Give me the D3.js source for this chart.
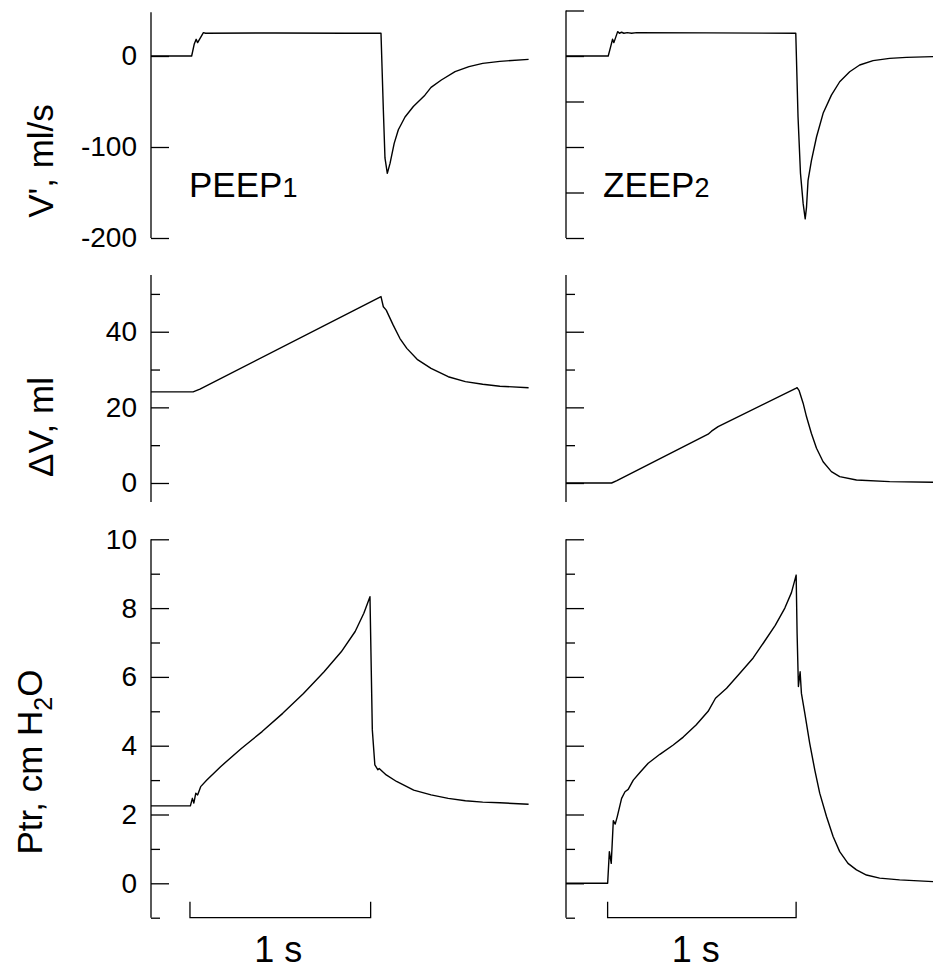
<!DOCTYPE html>
<html>
<head>
<meta charset="utf-8">
<script src="https://cdn.jsdelivr.net/npm/d3@7"></script>
<style>
body { margin: 0; background: #fff; }
text { font-family: "Liberation Sans", Arial, sans-serif; fill: #000; }
</style>
</head>
<body>
<svg id="chart"></svg>
<script>
const width = 934;
const height = 969;

// traces: [time (s), value]
const flowPeep = [[0,0],[0.225,0],[0.239,12.8],[0.250,18.3],[0.258,14.7],[0.290,25.7],[0.302,25],[0.691,25.3],[1.073,25],[1.273,25],
  [1.286,-59],[1.295,-112],[1.308,-129],[1.323,-118],[1.346,-96],[1.369,-81],[1.406,-67],[1.452,-55.5],[1.516,-43],[1.550,-34.5],
  [1.607,-26.4],[1.683,-17.2],[1.760,-11.7],[1.836,-8.1],[1.931,-5.9],[2.090,-3.7]];
const flowZeep = [[0,0],[0.224,0],[0.237,10.3],[0.247,18.4],[0.254,14.7],[0.274,26.8],[0.283,25],[0.295,26.1],[0.307,25],[0.325,25.7],
  [0.348,25],[0.375,25.7],[0.746,25.4],[1.219,25],[1.231,-67],[1.244,-129],[1.258,-162],[1.269,-179],[1.276,-166],[1.284,-137],
  [1.302,-115],[1.329,-89],[1.364,-63],[1.408,-43],[1.452,-28.3],[1.505,-17.3],[1.558,-9.9],[1.629,-5.1],[1.717,-2.6],[1.806,-1.5],[1.947,-0.7]];
const volPeep = [[0,24.1],[0.233,24.1],[0.271,24.8],[1.273,49.3],[1.286,46.6],[1.302,45.7],[1.340,41.8],[1.378,38.2],[1.416,35.6],
  [1.473,32.7],[1.550,30.3],[1.645,28.1],[1.740,26.8],[1.836,26.1],[1.931,25.6],[2.090,25.2]];
const volZeep = [[0,0],[0.242,0],[0.270,0.6],[0.754,12.9],[0.772,13.7],[0.807,14.9],[1.219,25.0],[1.226,25.2],[1.237,24.4],
  [1.258,21.1],[1.276,17.5],[1.302,13.1],[1.329,9.2],[1.364,5.6],[1.408,3.0],[1.452,1.7],[1.541,0.8],[1.717,0.35],[1.947,0.2]];
const ptrPeep = [[0,2.25],[0.218,2.25],[0.229,2.47],[0.237,2.33],[0.248,2.62],[0.258,2.57],[0.275,2.81],[0.309,3.0],[0.385,3.39],
  [0.5,3.92],[0.615,4.41],[0.729,4.94],[0.844,5.52],[0.958,6.15],[1.053,6.73],[1.130,7.32],[1.178,7.85],[1.212,8.33],
  [1.225,4.46],[1.239,3.44],[1.256,3.30],[1.263,3.34],[1.302,3.15],[1.359,2.96],[1.454,2.71],[1.550,2.57],[1.645,2.47],
  [1.740,2.40],[1.836,2.36],[1.931,2.34],[2.090,2.30]];
const ptrZeep = [[0,0],[0.221,0],[0.230,0.92],[0.240,0.58],[0.251,1.82],[0.261,1.72],[0.272,1.94],[0.295,2.47],[0.313,2.66],
  [0.330,2.73],[0.357,3.0],[0.392,3.22],[0.436,3.49],[0.498,3.75],[0.569,4.02],[0.622,4.25],[0.690,4.60],[0.754,5.0],
  [0.793,5.38],[0.852,5.67],[0.913,6.05],[0.993,6.55],[1.049,7.0],[1.110,7.50],[1.161,8.0],[1.196,8.45],[1.221,8.96],[1.226,7.27],
  [1.233,5.72],[1.242,6.15],[1.249,5.52],[1.267,4.94],[1.293,4.07],[1.320,3.29],[1.346,2.62],[1.382,1.94],[1.417,1.36],
  [1.452,0.92],[1.496,0.58],[1.541,0.39],[1.594,0.24],[1.664,0.15],[1.770,0.10],[1.947,0.05]];

// ticks
const flowTicksLeft = [-200, -100, 0];
const flowTicksRight = [-200, -150, -100, -50, 0, 50];
const volMajor = [0, 20, 40];
const volMinor = [10, 30, 50];
const ptrMajor = [0, 2, 4, 6, 8, 10];
const ptrMinor = [-1, 1, 3, 5, 7, 9];

const modeLabels = ['PEEP', 'ZEEP'];
const modeIndex = ['1', '2'];
const barLabel = '1 s';

const svg = d3.select('#chart').attr('width', width).attr('height', height);

const cols = [
  {x: d3.scaleLinear().domain([0, 2.09]).range([151, 528.6]), bar: [0.2157, 1.2157], labels: true, topEnd: 48},
  {x: d3.scaleLinear().domain([0, 1.947]).range([566, 933]), bar: [0.2208, 1.2208], labels: false, topEnd: 50}
];

const yFlow = d3.scaleLinear().domain([-200, 50]).range([238, 10.5]);
const yVol = d3.scaleLinear().domain([-5, 55]).range([501.9, 275]);
const yPtr = d3.scaleLinear().domain([-1, 10]).range([917.7, 539.3]);

const longTick = 18, shortTick = 9;

function drawAxis(x0, y, major, minor, labels, domainEnd) {
  const g = svg.append('g').attr('transform', `translate(${x0},0)`);
  const ax = d3.axisLeft(y).tickValues(major).tickSizeInner(-longTick).tickSizeOuter(0).tickPadding(14);
  g.call(ax);
  g.select('.domain').remove();
  if (minor.length) {
    const gm = svg.append('g').attr('transform', `translate(${x0},0)`);
    gm.call(d3.axisLeft(y).tickValues(minor).tickSizeInner(-shortTick).tickSizeOuter(0).tickFormat(''));
    gm.select('.domain').remove();
    gm.selectAll('line').attr('stroke', '#000').attr('stroke-width', 1.3);
  }
  g.append('line')
    .attr('x1', 0).attr('x2', 0)
    .attr('y1', y(y.domain()[0])).attr('y2', y(domainEnd))
    .attr('stroke', '#000').attr('stroke-width', 1.3);
  g.selectAll('.tick line').attr('stroke', '#000').attr('stroke-width', 1.3);
  g.selectAll('.tick text')
    .attr('font-size', 28)
    .attr('font-family', '"Liberation Sans", Arial, sans-serif')
    .text(d => labels ? (d < 0 ? '-' + Math.abs(d) : d) : '');
}

const line = (x, y) => d3.line().x(d => x(d[0])).y(d => y(d[1]));

const traces = [[flowPeep, volPeep, ptrPeep], [flowZeep, volZeep, ptrZeep]];

cols.forEach((c, i) => {
  const x0 = c.x.range()[0];
  drawAxis(x0, yFlow, i === 0 ? flowTicksLeft : flowTicksRight, [], c.labels, c.topEnd);
  drawAxis(x0, yVol, volMajor, volMinor, c.labels, 55);
  drawAxis(x0, yPtr, ptrMajor, ptrMinor, c.labels, 10);

  [yFlow, yVol, yPtr].forEach((y, k) => {
    svg.append('path')
      .datum(traces[i][k])
      .attr('fill', 'none')
      .attr('stroke', '#000')
      .attr('stroke-width', 1.4)
      .attr('stroke-linejoin', 'round')
      .attr('d', line(c.x, y));
  });

  // 1 s scale bar
  const by = yPtr(-1);
  const bx0 = c.x(c.bar[0]), bx1 = c.x(c.bar[1]);
  svg.append('path')
    .attr('d', `M${bx0},${by - 16}V${by}H${bx1}V${by - 16}`)
    .attr('fill', 'none').attr('stroke', '#000').attr('stroke-width', 1.3);
  svg.append('text')
    .attr('x', (bx0 + bx1) / 2 + (i === 0 ? -2 : -6)).attr('y', 962)
    .attr('text-anchor', 'middle').attr('font-size', 36)
    .text(barLabel);

  const mt = svg.append('text')
    .attr('x', x0 + (i === 0 ? 38 : 37)).attr('y', 197)
    .attr('font-size', 35);
  mt.append('tspan').text(modeLabels[i]);
  mt.append('tspan').attr('font-size', 27).text(modeIndex[i]);
});

// y titles
svg.append('text')
  .attr('transform', 'translate(53,161) rotate(-90)')
  .attr('text-anchor', 'middle').attr('font-size', 35)
  .text("V', ml/s");

svg.append('text')
  .attr('transform', 'translate(53,427) rotate(-90)')
  .attr('text-anchor', 'middle').attr('font-size', 35)
  .text('\u0394V, ml');

const pt = svg.append('text')
  .attr('transform', 'translate(42,762) rotate(-90)')
  .attr('text-anchor', 'middle').attr('font-size', 35);
pt.append('tspan').text('Ptr, cm H');
pt.append('tspan').attr('font-size', 25).attr('dy', 10).text('2');
pt.append('tspan').attr('dy', -10).text('O');
</script>
</body>
</html>
